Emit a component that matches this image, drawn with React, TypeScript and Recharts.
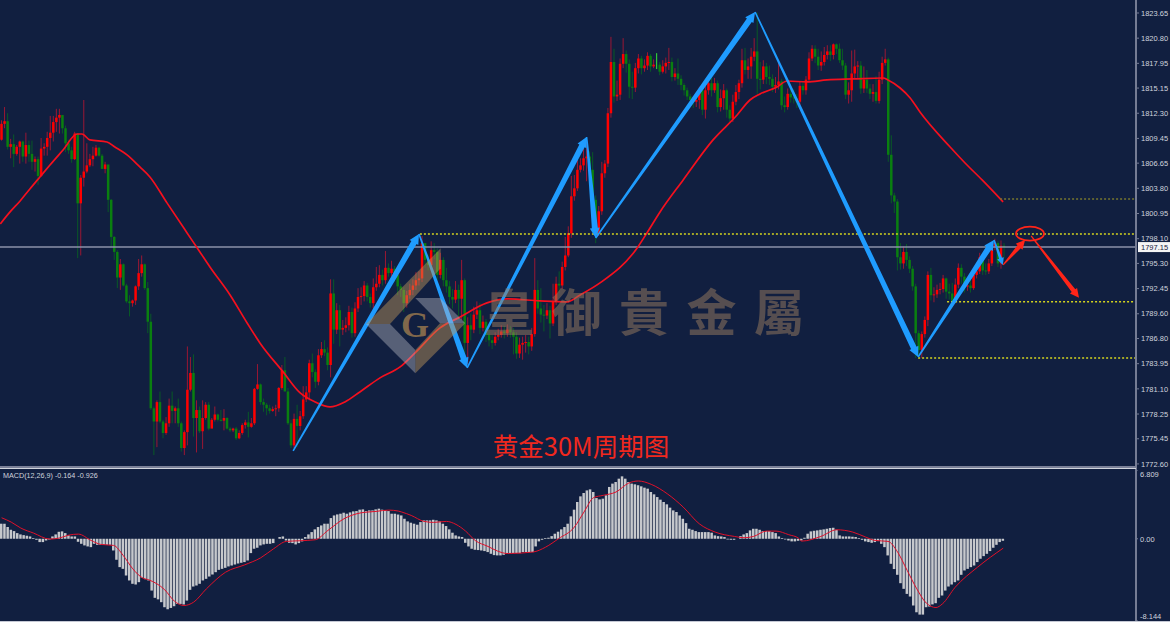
import * as React from "react";
import {
    Bar,
    ComposedChart,
    Line,
    ReferenceDot,
    ReferenceLine,
    XAxis,
    YAxis,
} from "recharts";

/* ---------- price data ---------- */
const firstOpen = 1809.3;
const candleCloses = [
    1811.1, 1811.4, 1808.5, 1808.8, 1807.7, 1808.5, 1809.1, 1807.4, 1808.7, 1807.7,
    1806.8, 1807.1, 1805.2, 1808.3, 1808.5, 1809.5, 1810.1, 1811.3, 1811.8, 1812.1,
    1810.6, 1808.9, 1808.1, 1807.1, 1810.0, 1802.1, 1805.0, 1805.7, 1806.4, 1807.1,
    1807.5, 1808.4, 1807.5, 1806.0, 1806.5, 1802.5, 1798.3, 1796.6, 1793.7, 1795.2,
    1792.8, 1791.0, 1790.8, 1791.1, 1792.7, 1794.2, 1795.2, 1792.5, 1788.7, 1778.9,
    1777.4, 1779.6, 1777.4, 1776.1, 1777.2, 1779.2, 1778.6, 1778.9, 1777.2, 1774.4,
    1776.2, 1781.0, 1782.9, 1777.8, 1778.7, 1776.3, 1777.8, 1779.3, 1776.6, 1777.6,
    1778.2, 1777.6, 1777.5, 1777.8, 1776.6, 1776.4, 1776.6, 1775.5, 1776.1, 1777.0,
    1777.3, 1776.8, 1777.2, 1781.1, 1781.6, 1779.6, 1779.3, 1778.9, 1778.6, 1778.8,
    1778.9, 1781.2, 1783.2, 1780.8, 1777.2, 1774.7, 1777.7, 1776.9, 1778.0, 1779.9,
    1780.7, 1784.0, 1783.0, 1781.9, 1784.9, 1785.6, 1785.2, 1783.8, 1791.9, 1787.8,
    1790.0, 1787.8, 1788.0, 1788.3, 1789.8, 1787.4, 1790.2, 1791.5, 1791.6, 1792.8,
    1791.5, 1790.8, 1792.6, 1793.0, 1794.0, 1793.4, 1794.8, 1794.2, 1794.7, 1794.0,
    1792.7, 1792.3, 1790.8, 1791.7, 1792.3, 1792.8, 1793.4, 1793.6, 1797.6, 1795.7,
    1795.1, 1796.8, 1796.6, 1794.0, 1795.7, 1793.4, 1792.7, 1791.5, 1791.2, 1792.3,
    1791.3, 1793.4, 1786.3, 1788.3, 1787.8, 1789.5, 1790.0, 1788.0, 1788.7, 1787.2,
    1786.6, 1786.3, 1787.0, 1787.2, 1787.6, 1787.4, 1787.8, 1787.5, 1787.0, 1785.1,
    1786.1, 1786.3, 1786.4, 1785.9, 1787.3, 1792.3, 1790.2, 1789.5, 1789.4, 1790.0,
    1788.5, 1791.0, 1793.0, 1792.8, 1794.9, 1796.2, 1798.7, 1802.9, 1803.8, 1805.9,
    1806.4, 1807.2, 1807.4, 1805.9, 1802.5, 1798.7, 1801.2, 1805.5, 1806.6, 1812.3,
    1818.1, 1814.2, 1814.4, 1817.9, 1819.0, 1817.9, 1815.3, 1815.2, 1817.4, 1818.5,
    1817.4, 1817.7, 1818.8, 1817.6, 1817.8, 1817.8, 1817.0, 1817.6, 1818.0, 1818.1,
    1816.4, 1816.8, 1816.2, 1815.5, 1814.9, 1814.2, 1813.8, 1813.6, 1813.8, 1814.9,
    1812.7, 1814.9, 1815.7, 1814.9, 1815.7, 1813.0, 1814.0, 1814.9, 1812.7, 1811.7,
    1813.6, 1814.7, 1815.7, 1818.3, 1817.2, 1817.6, 1818.7, 1819.3, 1816.2, 1816.1,
    1817.6, 1816.4, 1816.2, 1815.3, 1815.5, 1815.9, 1813.2, 1813.0, 1814.5, 1814.1,
    1814.0, 1813.6, 1815.4, 1814.9, 1816.1, 1818.5, 1819.6, 1818.7, 1817.7, 1818.1,
    1818.9, 1819.3, 1818.9, 1820.1, 1819.6, 1818.3, 1817.7, 1814.4, 1814.9, 1816.8,
    1817.6, 1817.7, 1815.1, 1816.1, 1815.1, 1814.5, 1814.7, 1813.7, 1816.1, 1818.0,
    1818.4, 1807.6, 1803.0, 1802.3, 1796.0, 1795.3, 1796.6, 1795.7, 1794.7, 1792.7,
    1787.4, 1785.5, 1787.3, 1788.9, 1794.0, 1791.7, 1791.8, 1792.3, 1792.4, 1793.6,
    1792.1, 1791.9, 1791.0, 1792.9, 1794.8, 1793.8, 1792.7, 1792.8, 1792.5, 1794.0,
    1794.4, 1796.0, 1794.5, 1794.4, 1795.3, 1797.2, 1797.6, 1795.3, 1797.3, 1797.15,
];
const candleHighs = [
    1811.5, 1813.0, 1812.3, 1809.4, 1809.9, 1808.7, 1809.2, 1809.2, 1810.1, 1809.2,
    1809.2, 1807.4, 1807.4, 1809.5, 1808.9, 1810.2, 1812.0, 1812.0, 1812.8, 1812.8,
    1812.0, 1810.9, 1809.3, 1808.5, 1810.2, 1810.0, 1805.3, 1813.8, 1808.9, 1807.7,
    1808.5, 1808.7, 1808.5, 1807.7, 1806.8, 1806.4, 1802.6, 1798.4, 1796.8, 1795.8,
    1795.3, 1793.0, 1791.7, 1791.2, 1792.8, 1795.8, 1796.2, 1795.3, 1793.2, 1789.6,
    1779.1, 1779.8, 1780.8, 1777.6, 1777.9, 1780.0, 1780.8, 1779.1, 1780.0, 1777.4,
    1776.4, 1785.9, 1784.7, 1785.0, 1779.8, 1779.1, 1779.8, 1779.6, 1779.6, 1777.8,
    1779.1, 1778.3, 1778.7, 1778.8, 1777.9, 1776.8, 1776.7, 1776.8, 1776.4, 1777.2,
    1777.6, 1778.5, 1777.8, 1781.2, 1783.9, 1781.7, 1780.0, 1779.5, 1779.3, 1779.1,
    1779.3, 1781.3, 1783.8, 1784.7, 1781.2, 1777.6, 1778.3, 1779.3, 1778.6, 1781.4,
    1781.4, 1784.4, 1785.1, 1783.3, 1785.6, 1786.4, 1786.6, 1785.8, 1793.5, 1793.5,
    1790.8, 1790.6, 1788.9, 1789.2, 1790.5, 1790.3, 1790.9, 1792.5, 1792.6, 1793.3,
    1793.1, 1791.9, 1793.6, 1794.9, 1795.1, 1794.6, 1796.7, 1795.3, 1795.6, 1795.0,
    1794.3, 1793.0, 1792.6, 1792.2, 1793.0, 1793.5, 1794.3, 1794.4, 1798.4, 1797.5,
    1796.3, 1797.8, 1797.6, 1797.0, 1796.5, 1796.0, 1794.8, 1793.3, 1792.4, 1793.3,
    1792.9, 1795.7, 1793.6, 1789.2, 1789.6, 1790.4, 1791.0, 1790.8, 1789.4, 1789.0,
    1788.0, 1787.2, 1787.5, 1787.9, 1788.3, 1788.2, 1788.4, 1788.2, 1788.0, 1787.5,
    1786.9, 1787.0, 1787.2, 1787.0, 1788.0, 1795.9, 1793.4, 1792.5, 1790.6, 1790.8,
    1790.5, 1793.0, 1793.8, 1794.4, 1795.5, 1798.3, 1799.5, 1805.2, 1805.3, 1807.4,
    1807.2, 1808.3, 1809.3, 1808.0, 1807.9, 1803.0, 1801.8, 1806.8, 1807.0, 1812.9,
    1820.95, 1819.6, 1816.0, 1818.5, 1820.8, 1819.4, 1818.4, 1817.0, 1818.0, 1819.0,
    1818.8, 1818.4, 1819.2, 1819.0, 1818.4, 1819.1, 1818.1, 1818.3, 1818.6, 1819.7,
    1818.6, 1817.4, 1818.5, 1816.6, 1815.7, 1815.2, 1814.5, 1814.2, 1814.4, 1815.3,
    1815.1, 1815.4, 1816.2, 1816.6, 1816.3, 1816.0, 1815.0, 1815.6, 1815.1, 1813.2,
    1814.4, 1815.5, 1816.1, 1819.6, 1819.7, 1818.5, 1819.7, 1820.8, 1823.7, 1818.1,
    1818.3, 1818.0, 1817.7, 1816.7, 1816.4, 1818.0, 1816.2, 1814.2, 1815.1, 1815.0,
    1815.0, 1814.5, 1815.9, 1815.8, 1816.5, 1819.2, 1820.0, 1820.0, 1819.6, 1819.3,
    1819.8, 1820.0, 1820.0, 1820.2, 1820.2, 1820.2, 1819.6, 1818.0, 1815.8, 1819.4,
    1819.5, 1818.2, 1818.2, 1817.6, 1817.2, 1815.6, 1815.6, 1816.5, 1817.0, 1818.7,
    1819.6, 1818.6, 1809.8, 1803.3, 1802.6, 1797.6, 1797.2, 1797.5, 1796.1, 1795.0,
    1793.0, 1787.7, 1787.6, 1789.3, 1794.4, 1794.8, 1792.6, 1792.9, 1793.1, 1794.0,
    1793.7, 1793.0, 1793.1, 1793.6, 1795.3, 1795.2, 1794.2, 1793.6, 1793.4, 1794.4,
    1795.0, 1796.5, 1796.4, 1795.3, 1795.8, 1797.6, 1798.1, 1797.8, 1797.9, 1797.6,
];
const candleLows = [
    1809.2, 1810.6, 1808.2, 1807.2, 1806.2, 1807.5, 1806.6, 1806.8, 1806.6, 1806.8,
    1805.9, 1805.7, 1804.2, 1805.1, 1807.5, 1807.5, 1808.1, 1809.1, 1810.2, 1810.0,
    1810.0, 1807.9, 1807.7, 1806.7, 1807.0, 1795.9, 1796.2, 1804.0, 1805.5, 1806.2,
    1806.3, 1807.4, 1807.4, 1806.0, 1805.5, 1801.1, 1797.2, 1795.7, 1792.5, 1792.3,
    1792.7, 1790.8, 1789.3, 1790.4, 1790.6, 1792.3, 1793.8, 1792.3, 1787.4, 1778.7,
    1773.6, 1774.5, 1777.2, 1775.5, 1775.9, 1776.8, 1777.2, 1777.2, 1776.8, 1774.0,
    1773.6, 1774.7, 1780.8, 1775.7, 1773.9, 1776.1, 1774.3, 1777.6, 1776.4, 1777.0,
    1777.4, 1777.4, 1777.4, 1776.4, 1776.5, 1776.2, 1776.2, 1775.3, 1775.4, 1775.9,
    1776.6, 1775.6, 1776.7, 1777.0, 1781.0, 1779.3, 1778.5, 1778.1, 1778.3, 1778.5,
    1778.0, 1778.5, 1781.0, 1781.0, 1777.0, 1774.4, 1774.4, 1774.5, 1776.4, 1777.7,
    1779.6, 1779.8, 1782.4, 1781.2, 1781.5, 1784.6, 1784.8, 1783.2, 1782.4, 1786.2,
    1787.3, 1785.9, 1787.2, 1787.5, 1787.7, 1786.9, 1787.0, 1789.8, 1790.6, 1791.0,
    1791.0, 1790.3, 1790.2, 1792.2, 1792.6, 1792.8, 1793.0, 1793.8, 1793.8, 1793.2,
    1791.7, 1791.5, 1789.8, 1790.3, 1791.3, 1791.7, 1792.3, 1792.8, 1793.2, 1794.8,
    1794.5, 1794.6, 1795.8, 1793.4, 1793.6, 1792.7, 1792.0, 1790.7, 1790.2, 1790.8,
    1788.9, 1788.9, 1783.8, 1783.9, 1786.6, 1787.4, 1789.0, 1787.3, 1787.6, 1786.4,
    1785.9, 1785.6, 1786.0, 1786.6, 1786.9, 1786.8, 1787.0, 1786.9, 1785.0, 1784.5,
    1784.6, 1784.4, 1785.2, 1785.0, 1785.4, 1787.0, 1789.6, 1788.6, 1787.6, 1789.0,
    1786.8, 1788.2, 1790.6, 1792.0, 1792.4, 1794.5, 1796.0, 1798.2, 1802.4, 1803.5,
    1805.6, 1805.8, 1804.6, 1805.0, 1801.6, 1797.6, 1798.4, 1800.8, 1805.0, 1806.2,
    1811.8, 1813.5, 1813.7, 1813.8, 1817.4, 1816.9, 1814.0, 1813.9, 1814.7, 1816.8,
    1816.7, 1817.0, 1817.2, 1817.0, 1817.4, 1817.3, 1816.6, 1816.8, 1816.8, 1817.2,
    1815.9, 1816.0, 1815.5, 1814.9, 1814.3, 1813.8, 1813.2, 1812.9, 1813.0, 1812.8,
    1812.1, 1811.7, 1814.4, 1814.2, 1814.6, 1812.4, 1812.5, 1812.7, 1811.8, 1811.2,
    1811.3, 1813.2, 1813.9, 1815.2, 1816.7, 1816.2, 1816.2, 1818.2, 1814.5, 1815.0,
    1815.6, 1815.6, 1815.5, 1814.7, 1814.6, 1815.0, 1812.7, 1812.4, 1812.7, 1813.5,
    1813.4, 1812.9, 1813.2, 1814.4, 1814.4, 1815.8, 1818.2, 1818.0, 1817.2, 1817.1,
    1817.7, 1818.4, 1818.2, 1818.4, 1819.0, 1818.0, 1817.2, 1813.9, 1813.4, 1813.6,
    1816.2, 1816.3, 1814.5, 1814.6, 1814.6, 1813.9, 1813.6, 1813.4, 1813.4, 1815.6,
    1817.7, 1806.8, 1802.1, 1801.0, 1794.5, 1794.6, 1794.7, 1795.0, 1794.2, 1792.2,
    1784.6, 1784.7, 1784.6, 1786.9, 1788.2, 1791.1, 1790.9, 1791.4, 1791.8, 1792.0,
    1791.3, 1791.2, 1790.5, 1790.8, 1792.5, 1793.0, 1792.0, 1792.2, 1792.0, 1792.3,
    1793.6, 1794.1, 1794.0, 1794.0, 1794.1, 1795.0, 1796.8, 1794.9, 1794.7, 1795.9,
];

/* the red moving average, sampled where it could be read */
const maSlots = [
    -0.4, 2.8, 6.1, 9.3, 12.6, 15.9, 20.2, 24.8, 26.4, 29, 34.6, 37.2, 41.2, 45.4, 48.7,
    54.3, 60.9, 65.1, 68.4, 75, 80.6, 84.8, 92.4, 98, 102.9, 107.8, 112.7, 117.6, 124.2,
    130.8, 135.7, 143.9, 150.5, 159.3, 165.9, 176.7, 185.6, 189.9, 196.4, 208.6, 211.8,
    216.1, 223.7, 233.5, 241.4, 245.6, 248.9, 254.5, 257.8, 264.3, 270.9, 279.5, 289.3,
    290.9, 294.9, 298.2, 301.4, 311.3, 316.2, 321.8, 328.7,
];
const maValues = [
    1799.77, 1801.13, 1802.37, 1803.73, 1805.09, 1806.44, 1808.14, 1809.95, 1809.95,
    1809.28, 1809.05, 1808.48, 1807.58, 1806.22, 1805.09, 1802.15, 1798.75, 1796.6,
    1794.9, 1791.73, 1788.56, 1786.3, 1783.02, 1780.64, 1779.62, 1779.05, 1779.62,
    1780.75, 1782.34, 1783.58, 1785.17, 1788.0, 1789.24, 1790.83, 1791.28, 1791.05,
    1790.94, 1791.73, 1793.09, 1797.05, 1798.75, 1801.13, 1804.75, 1809.28, 1812.1,
    1813.8, 1814.48, 1815.27, 1815.95, 1815.84, 1816.07, 1816.18, 1816.29, 1816.07,
    1815.16, 1814.03, 1812.44, 1808.48, 1806.67, 1804.75, 1802.26,
];

const priceTicks = [
    1823.65, 1820.8, 1817.95, 1815.15, 1812.3, 1809.45, 1806.65, 1803.8, 1800.95, 1798.1,
    1795.3, 1792.45, 1789.6, 1786.8, 1783.95, 1781.1, 1778.25, 1775.45, 1772.6,
];
const lastPrice = 1797.15;

/* dotted levels: [price, first candle slot] */
const dottedLevels = [
    [1798.64, 137.3],
    [1790.97, 310.3],
    [1784.6, 300.8],
];
const faintLevel = [1802.6, 327.7];

/* hand drawn arrows: [from slot, from price, to slot, to price] */
const thickBlueArrows = [
    [95.7, 1774.07, 137, 1798.64],
    [137, 1798.64, 152.8, 1783.47],
    [152.8, 1783.47, 192, 1809.61],
    [192, 1809.61, 195, 1798.18],
    [195, 1798.18, 247.3, 1823.76],
    [247.3, 1823.76, 300.8, 1784.71],
    [300.8, 1784.71, 325.7, 1797.96],
];
const smallBlueArrow = [325.7, 1797.96, 328.6, 1795.13];
const redArrows = [
    [328.7, 1795.13, 335.9, 1797.96],
    [337.9, 1798.41, 353.6, 1791.4],
];
const targetRing = [337.5, 1798.67];

/* ---------- MACD data ---------- */
const macdHistogram = [
    1.49, 1.49, 1.16, 0.89, 0.76, 0.56, 0.43, 0.36, 0.3, 0.23,
    0.07, -0.1, -0.33, -0.33, -0.17, -0.07, 0.23, 0.43, 0.69, 0.73,
    0.56, 0.33, 0.23, 0.23, -0.3, -0.5, -0.66, -0.76, -0.83, -0.5,
    -0.6, -0.6, -0.6, -0.6, -0.6, -1.16, -2.08, -2.81, -2.98, -3.64,
    -4.13, -4.46, -4.53, -4.3, -3.87, -4.0, -4.13, -5.13, -5.85, -6.0,
    -6.28, -6.78, -6.98, -6.85, -6.68, -6.45, -6.45, -6.51, -6.12, -5.06,
    -4.73, -4.63, -4.46, -4.13, -3.97, -3.74, -3.54, -3.31, -3.08, -2.98,
    -2.88, -2.74, -2.65, -2.55, -2.45, -2.38, -2.31, -2.15, -1.42, -0.99,
    -0.89, -0.66, -0.56, -0.5, -0.5, -0.43, 0, 0.17, 0.23, -0.17,
    -0.4, -0.43, -0.56, -0.43, -0.26, 0.17, 0.43, 0.66, 0.93, 1.16,
    1.32, 1.49, 1.49, 2.05, 2.31, 2.41, 2.48, 2.58, 2.48, 2.61,
    2.71, 2.74, 2.88, 2.91, 2.74, 2.81, 2.81, 2.91, 2.98, 2.88,
    2.81, 2.74, 2.48, 2.48, 2.4,
    2.31, 1.98, 1.72, 1.59, 1.49, 1.39, 1.65, 1.82, 1.82, 1.82,
    1.88, 1.82, 1.72, 1.49, 1.26, 0.93, 0.6, 0.33, 0.23, 0.17,
    -0.4, -0.76, -0.99, -1.09, -1.12, -1.16, -1.22, -1.32, -1.49, -1.62,
    -1.65, -1.65, -1.59, -1.42, -1.42, -1.42, -1.42, -1.42, -1.32, -1.32,
    -1.32, -1.32, -0.76, -0.26, -0.1, 0.07, 0.1, 0.26, 0.5, 0.7,
    0.93, 1.16, 1.49, 2.22, 2.88, 3.64, 4.2, 4.53, 4.79, 4.89,
    4.63, 4.03, 3.9, 3.97, 4.3, 5.13, 5.46, 5.62, 5.95, 6.18,
    5.95, 5.62, 5.46, 5.39, 5.3, 5.19, 5.06, 4.96, 4.63, 4.4,
    4.13, 3.87, 3.64, 3.41, 3.08, 2.81, 2.65, 2.31, 1.98, 1.55,
    0.99, 0.89, 0.76, 0.66, 0.66, 0.66, 0.66, 0.6, 0.33, 0.26,
    0.23, 0.17, -0.07, -0.1, -0.1, 0, 0.26, 0.43, 0.56, 0.83,
    0.99, 0.99, 0.89, 0.76, 0.76, 0.76, 0.66, 0.56, 0.23, 0.07,
    -0.07, -0.17, -0.26, -0.26, -0.2,
    -0.17, 0.1, 0.5, 0.73, 0.79, 0.83, 0.89, 0.93, 0.99, 1.06,
    1.09, 0.89, 0.33, 0.23, 0.23, 0.23, 0.2, 0.17, 0.07, -0.1,
    -0.26, -0.33, -0.4, -0.33, -0.23, -0.5, -0.83, -1.65, -2.48, -3.0,
    -3.57, -4.4, -4.96, -5.46, -5.72, -6.61, -7.28, -7.51, -7.51, -6.78,
    -6.71, -6.5, -6.38, -5.85, -5.62, -5.13, -4.73, -4.53, -4.3, -4.13,
    -3.57, -3.14, -2.98, -2.81, -2.65, -2.31, -1.98, -1.72, -1.49, -1.22,
    -0.89, -0.6, -0.33, -0.2,
];
const signalSlots = [
    0, 3, 6, 10, 15, 18, 21, 24, 28, 31, 35, 38, 41, 44, 46, 51, 54, 57, 60, 64, 70,
    76, 81, 85, 89, 93, 98, 102, 107, 112, 117, 121, 124, 125, 128, 132, 135, 139,
    142, 145, 148, 152, 155, 158, 166, 170, 174, 179, 182, 185, 188, 192, 196, 199,
    203, 208, 213, 218, 223, 229, 232, 235, 239, 242, 246, 249, 250, 256, 261, 266,
    270, 273, 277, 280, 283, 286, 289, 292, 294, 298, 305, 313,
];
const signalValues = [
    2.08, 1.65, 1.06, 0.56, -0.03, 0.07, 0.36, 0.46, -0.17, -0.56, -0.66, -1.65, -2.98,
    -3.87, -4.07, -5.06, -6.18, -6.61, -6.28, -4.96, -3.31, -2.58, -1.88, -0.99, -0.26,
    -0.2, -0.1, 0.83, 1.98, 2.55, 2.71, 2.84, 2.74, 2.65, 2.31, 1.72, 1.62, 1.72, 1.42,
    0.76, -0.17, -0.76, -1.22, -1.46, -1.32, -0.83, 0, 1.16, 2.65, 4.07, 4.3, 4.63,
    5.52, 5.72, 5.39, 4.46, 3.14, 1.49, 0.66, 0.23, 0.1, 0.23, 0.76, 0.76, 0.4, 0.07,
    -0.23, 0.23, 0.89, 0.66, 0.17, -0.17, -0.26, -1.32, -3.14, -4.96, -6.38, -6.81,
    -6.45, -4.8, -2.81, -0.93,
];
const macdTicks = [6.809, 0, -8.144];
const macdTitle = "MACD(12,26,9) -0.164 -0.926";

const watermarkText = "皇御貴金屬";
const chartTitle = "黄金30M周期图";

/* ---------- look ---------- */
const BG = "#111f40";
const AXIS = "#757c94";
const TEXT = "#d0d4de";
const FONT = "'Liberation Sans', Arial, sans-serif";
const BLUE = "#1f9cff";
const RED = "#ff2418";
const YELLOW = "#d4d41e";

const WIDTH = 1170;
const PLOT_WIDTH = 1136;
const PRICE_SLOTS_END = 372.3; // candles sit about 3.05px apart
const MACD_SLOTS_END = 354.5;

const candleRows = candleCloses.map((close, i) => ({
    i,
    open: i === 0 ? firstOpen : candleCloses[i - 1],
    close,
    high: candleHighs[i],
    low: candleLows[i],
    range: [candleLows[i], candleHighs[i]],
}));
const maRows = maSlots.map((i, k) => ({ i, ma: maValues[k] }));

const macdRows = macdHistogram.map((hist, i) => ({ i, hist }));
const signalRows = signalSlots.map((i, k) => ({ i, signal: signalValues[k] }));

/* ---------- shapes ---------- */
function Candle(props: any) {
    const { x, y, width, height, payload } = props;
    if (!payload || !(height > 0)) return null;
    const { open, close, high, low } = payload;
    const perUnit = height / (high - low);
    const cx = x + width / 2;
    const yOf = (p: number) => y + (high - p) * perUnit;
    if (open === close) {
        return <line x1={cx} x2={cx} y1={y} y2={y + height} stroke="#35e835" strokeWidth={1} />;
    }
    const up = close > open;
    const top = yOf(Math.max(open, close));
    const bottom = yOf(Math.min(open, close));
    return (
        <g>
            <line
                x1={cx}
                x2={cx}
                y1={y}
                y2={y + height}
                stroke={up ? "rgba(214,20,45,0.7)" : "rgba(4,120,25,0.65)"}
                strokeWidth={1}
            />
            <rect
                x={cx - 1.25}
                y={top}
                width={2.5}
                height={Math.max(bottom - top, 1)}
                fill={up ? "#ff0000" : "#0a7f10"}
            />
        </g>
    );
}

function arrowShape(color: string, startW: number, endW: number, headW: number, headL: number) {
    return function ArrowShape(props: any) {
        const { x1, y1, x2, y2 } = props;
        const len = Math.hypot(x2 - x1, y2 - y1);
        if (!len) return null;
        const ux = (x2 - x1) / len;
        const uy = (y2 - y1) / len;
        const nx = -uy;
        const ny = ux;
        const bx = x2 - ux * headL;
        const by = y2 - uy * headL;
        const pts = [
            [x1 + (nx * startW) / 2, y1 + (ny * startW) / 2],
            [bx + (nx * endW) / 2, by + (ny * endW) / 2],
            [bx + (nx * headW) / 2, by + (ny * headW) / 2],
            [x2, y2],
            [bx - (nx * headW) / 2, by - (ny * headW) / 2],
            [bx - (nx * endW) / 2, by - (ny * endW) / 2],
            [x1 - (nx * startW) / 2, y1 - (ny * startW) / 2],
        ];
        return <polygon points={pts.map((p) => p.join(",")).join(" ")} fill={color} />;
    };
}

function LastPriceLine(props: any) {
    const left = Math.min(props.x1, props.x2);
    const right = Math.max(props.x1, props.x2);
    const y = props.y1;
    return (
        <g>
            <line x1={left} x2={right} y1={y} y2={y} stroke="#8b92a8" strokeWidth={1.4} />
            <rect x={right + 2} y={y - 5} width={32} height={10} fill="#f4f4f4" />
            <text x={right + 5} y={y + 3} fontSize={7.5} fontFamily={FONT} fill="#17213d">
                {lastPrice.toFixed(2)}
            </text>
        </g>
    );
}

function RingShape(props: any) {
    return <ellipse cx={props.cx} cy={props.cy} rx={14} ry={7} fill="none" stroke={RED} strokeWidth={1.8} />;
}

function MacdTick(props: any) {
    const { x, y, payload } = props;
    const value = payload.value;
    const shift = value > 0 ? 6.5 : value < 0 ? -2 : 3;
    return (
        <text x={x} y={y + shift} fontSize={7.5} fontFamily={FONT} fill={TEXT}>
            {value === 0 ? "0.00" : String(value)}
        </text>
    );
}

/* ---------- watermark and title ---------- */
function Overlay() {
    return (
        <svg
            width={WIDTH}
            height={622}
            style={{ position: "absolute", left: 0, top: 0, pointerEvents: "none" }}
        >
            <polygon points="366,324 440.7,248.3 440.7,268.3 390,324" fill="rgba(196,154,92,0.45)" />
            <polygon points="415.3,350 440,323.3 465.3,323.3 415.3,373.3" fill="rgba(196,154,92,0.45)" />
            <polygon points="366,324 390,324 415.3,350 415.3,373.3" fill="rgba(185,185,195,0.42)" />
            <polygon points="415.3,298 440,298 465.3,323.3 440,323.3" fill="rgba(185,185,195,0.42)" />
            <text
                x={415}
                y={337}
                textAnchor="middle"
                fontSize={36}
                fontWeight={700}
                fontFamily="'Liberation Serif', serif"
                fill="rgba(150,118,78,0.85)"
            >
                G
            </text>
            <text
                x={484}
                y={331}
                fontSize={50}
                letterSpacing={17.5}
                fontWeight={700}
                fontFamily="'Noto Sans CJK TC', sans-serif"
                fill="rgba(155,125,95,0.5)"
            >
                {watermarkText}
            </text>
            <text
                x={581}
                y={456}
                textAnchor="middle"
                fontSize={25.5}
                fontFamily="'Noto Sans CJK SC', sans-serif"
                fill="#f0281e"
            >
                {chartTitle}
            </text>
            <text x={3} y={478} fontSize={7.2} fontFamily={FONT} fill={TEXT}>
                {macdTitle}
            </text>
        </svg>
    );
}

export default function App() {
    return (
        <div
            style={{
                position: "absolute",
                left: 0,
                top: 0,
                width: WIDTH,
                height: 622,
                background: BG,
                overflow: "hidden",
            }}
        >
            <div style={{ position: "absolute", left: 0, top: 0 }}>
                <ComposedChart
                    width={WIDTH}
                    height={474}
                    data={candleRows}
                    margin={{ top: 0, right: 0, bottom: 0, left: 0 }}
                >
                    <XAxis dataKey="i" type="number" domain={[-0.5, PRICE_SLOTS_END]} hide />
                    <YAxis
                        orientation="right"
                        width={34}
                        domain={[1771.46, 1825.12]}
                        allowDataOverflow
                        ticks={priceTicks}
                        interval={0}
                        tickFormatter={(v: number) => v.toFixed(2)}
                        tick={{ fontSize: 7.5, fill: TEXT, fontFamily: FONT }}
                        tickSize={3}
                        tickMargin={2}
                        tickLine={{ stroke: AXIS }}
                        axisLine={{ stroke: AXIS, strokeWidth: 2 }}
                    />
                    <ReferenceLine y={lastPrice} shape={LastPriceLine} />
                    <Bar dataKey="range" barSize={3} shape={Candle} isAnimationActive={false} />
                    <Line
                        data={maRows}
                        dataKey="ma"
                        type="monotone"
                        dot={false}
                        activeDot={false}
                        stroke="#f5101e"
                        strokeWidth={1.7}
                        isAnimationActive={false}
                    />
                    {dottedLevels.map(([price, from]) => (
                        <ReferenceLine
                            key={price}
                            segment={[
                                { x: from, y: price },
                                { x: PRICE_SLOTS_END, y: price },
                            ]}
                            stroke={YELLOW}
                            strokeWidth={1.5}
                            strokeDasharray="2 2"
                        />
                    ))}
                    <ReferenceLine
                        segment={[
                            { x: faintLevel[1], y: faintLevel[0] },
                            { x: PRICE_SLOTS_END, y: faintLevel[0] },
                        ]}
                        stroke="#77772e"
                        strokeWidth={1.5}
                        strokeDasharray="2 2"
                    />
                    {thickBlueArrows.map(([x1, y1, x2, y2]) => (
                        <ReferenceLine
                            key={x1}
                            segment={[
                                { x: x1, y: y1 },
                                { x: x2, y: y2 },
                            ]}
                            shape={arrowShape(BLUE, 1.6, 6, 10, 10)}
                        />
                    ))}
                    <ReferenceLine
                        segment={[
                            { x: smallBlueArrow[0], y: smallBlueArrow[1] },
                            { x: smallBlueArrow[2], y: smallBlueArrow[3] },
                        ]}
                        shape={arrowShape(BLUE, 1.5, 3, 7, 7)}
                    />
                    {redArrows.map(([x1, y1, x2, y2]) => (
                        <ReferenceLine
                            key={x1}
                            segment={[
                                { x: x1, y: y1 },
                                { x: x2, y: y2 },
                            ]}
                            shape={arrowShape(RED, 1.2, 4.5, 9, 9)}
                        />
                    ))}
                    <ReferenceDot x={targetRing[0]} y={targetRing[1]} shape={RingShape} />
                </ComposedChart>
            </div>

            <div style={{ position: "absolute", left: 0, top: 466, width: PLOT_WIDTH, height: 2, background: "#7a8098" }} />
            <div style={{ position: "absolute", left: 0, top: 468, width: PLOT_WIDTH, height: 1, background: "#cfd3dc" }} />
            <div style={{ position: "absolute", left: 0, top: 621, width: WIDTH, height: 1, background: "#c4c8d4" }} />

            <div style={{ position: "absolute", left: 0, top: 470 }}>
                <ComposedChart
                    width={WIDTH}
                    height={151}
                    data={macdRows}
                    margin={{ top: 0, right: 0, bottom: 0, left: 0 }}
                >
                    <XAxis dataKey="i" type="number" domain={[-0.5, MACD_SLOTS_END]} hide />
                    <YAxis
                        orientation="right"
                        width={34}
                        domain={[-8.144, 6.809]}
                        ticks={macdTicks}
                        interval={0}
                        tick={<MacdTick />}
                        tickSize={2}
                        tickMargin={2}
                        tickLine={{ stroke: AXIS }}
                        axisLine={{ stroke: AXIS, strokeWidth: 2 }}
                    />
                    <Bar dataKey="hist" barSize={2.5} fill="#c6c8cc" isAnimationActive={false} />
                    <Line
                        data={signalRows}
                        dataKey="signal"
                        type="monotone"
                        dot={false}
                        activeDot={false}
                        stroke="#e0102a"
                        strokeWidth={1}
                        isAnimationActive={false}
                    />
                </ComposedChart>
            </div>

            <Overlay />
        </div>
    );
}
